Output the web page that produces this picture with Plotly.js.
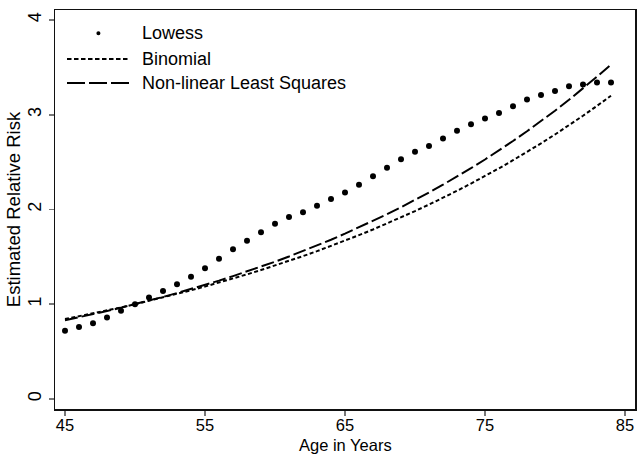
<!DOCTYPE html>
<html>
<head>
<meta charset="utf-8">
<script src="https://cdn.plot.ly/plotly-3.0.1.min.js"></script>
<style>
  html, body { margin: 0; padding: 0; background: #fff; }
  #chart { width: 637px; height: 458px; }
</style>
</head>
<body>
<div id="chart"></div>
<script>
// Age in years (one estimate per year of age)
const ages = [45,46,47,48,49,50,51,52,53,54,55,56,57,58,59,60,61,62,63,64,
              65,66,67,68,69,70,71,72,73,74,75,76,77,78,79,80,81,82,83,84];

// Lowess-smoothed relative risk
const lowessRR = [0.72,0.76,0.80,0.86,0.93,1.00,1.07,1.14,1.21,1.29,
                  1.38,1.48,1.58,1.67,1.76,1.85,1.92,1.97,2.04,2.11,
                  2.18,2.26,2.35,2.44,2.53,2.61,2.67,2.75,2.83,2.90,
                  2.96,3.02,3.09,3.16,3.21,3.25,3.30,3.32,3.34,3.34];

// Binomial model relative risk
const binomialRR = [0.843,0.872,0.902,0.934,0.966,1.000,1.035,1.071,1.108,1.147,
                    1.187,1.228,1.271,1.315,1.361,1.408,1.457,1.508,1.560,1.615,
                    1.671,1.729,1.789,1.852,1.916,1.983,2.052,2.123,2.197,2.274,
                    2.353,2.435,2.520,2.607,2.698,2.792,2.889,2.990,3.094,3.201];

// Non-linear least squares relative risk
const nllsRR = [0.831,0.862,0.895,0.928,0.964,1.000,1.038,1.077,1.118,1.160,
                1.204,1.249,1.297,1.346,1.396,1.449,1.504,1.561,1.620,1.681,
                1.745,1.811,1.879,1.950,2.024,2.100,2.180,2.262,2.347,2.436,
                2.528,2.624,2.723,2.826,2.933,3.043,3.158,3.278,3.402,3.530];

const xTicks = [45, 55, 65, 75, 85];
const yTicks = [0, 1, 2, 3, 4];
const seriesNames = ['Lowess', 'Binomial', 'Non-linear Least Squares'];
const xTitle = 'Age in Years';
const yTitle = 'Estimated Relative Risk';

const FONT = 'Liberation Sans, Arial, sans-serif';
const INK = '#000';

const traces = [
  {
    x: ages, y: lowessRR, name: seriesNames[0], type: 'scatter', mode: 'markers',
    marker: { color: INK, size: 6 }, showlegend: false
  },
  {
    x: ages, y: binomialRR, name: seriesNames[1], type: 'scatter', mode: 'lines',
    line: { color: INK, width: 2, dash: '4px,2.5px' }, showlegend: false
  },
  {
    x: ages, y: nllsRR, name: seriesNames[2], type: 'scatter', mode: 'lines',
    line: { color: INK, width: 2, dash: '13px,4px' }, showlegend: false
  }
];

// Key in the upper-left corner of the plot: sample mark + label per series
const keyRows = [0.942, 0.877, 0.817];
const keyX0 = 0.0207, keyX1 = 0.129, keyText = 0.1466;
const shapes = [
  { type: 'line', xref: 'paper', yref: 'paper', x0: keyX0, x1: keyX1, y0: keyRows[1], y1: keyRows[1],
    line: { color: INK, width: 2, dash: '4.5px,2.5px' } },
  { type: 'line', xref: 'paper', yref: 'paper', x0: keyX0, x1: keyX1, y0: keyRows[2], y1: keyRows[2],
    line: { color: INK, width: 2, dash: '18px,4px' } },
  { type: 'circle', xref: 'paper', yref: 'paper',
    x0: (keyX0 + keyX1) / 2 - 0.0035, x1: (keyX0 + keyX1) / 2 + 0.0035,
    y0: keyRows[0] - 0.005, y1: keyRows[0] + 0.005,
    fillcolor: INK, line: { width: 0 } }
];
const annotations = seriesNames.map((name, i) => ({
  xref: 'paper', yref: 'paper', x: keyText, y: keyRows[i],
  xanchor: 'left', yanchor: 'middle', showarrow: false, text: name,
  font: { family: FONT, size: 18, color: INK }
}));
// x-axis title, set just under the tick labels
annotations.push({
  xref: 'paper', yref: 'paper', x: 0.5, y: 0, yshift: -25,
  xanchor: 'center', yanchor: 'top', showarrow: false, text: xTitle,
  font: { family: FONT, size: 16.5, color: INK }
});

const axisCommon = {
  showgrid: false, zeroline: false,
  showline: true, mirror: true, linecolor: '#111', linewidth: 1.5,
  ticks: 'outside', ticklen: 5, tickwidth: 1.5, tickcolor: '#777'
};

const layout = {
  width: 637, height: 458,
  margin: { l: 55, r: 2, t: 10, b: 49 },
  paper_bgcolor: '#fff', plot_bgcolor: '#fff',
  showlegend: false,
  font: { family: FONT, size: 17, color: INK },
  xaxis: Object.assign({}, axisCommon, {
    range: [44.286, 85.714], tickvals: xTicks, ticktext: xTicks.map(String),
    tickfont: { family: FONT, size: 16.5, color: INK },
    ticklabelstandoff: -4
  }),
  yaxis: Object.assign({}, axisCommon, {
    range: [-0.106, 4.106], tickvals: yTicks, ticktext: yTicks.map(String),
    tickangle: -90,
    tickfont: { family: FONT, size: 18, color: INK },
    title: { text: yTitle, font: { family: FONT, size: 18.5, color: INK }, standoff: 0 }
  }),
  shapes: shapes,
  annotations: annotations
};

Plotly.newPlot('chart', traces, layout, { staticPlot: true, displayModeBar: false });
</script>
</body>
</html>
